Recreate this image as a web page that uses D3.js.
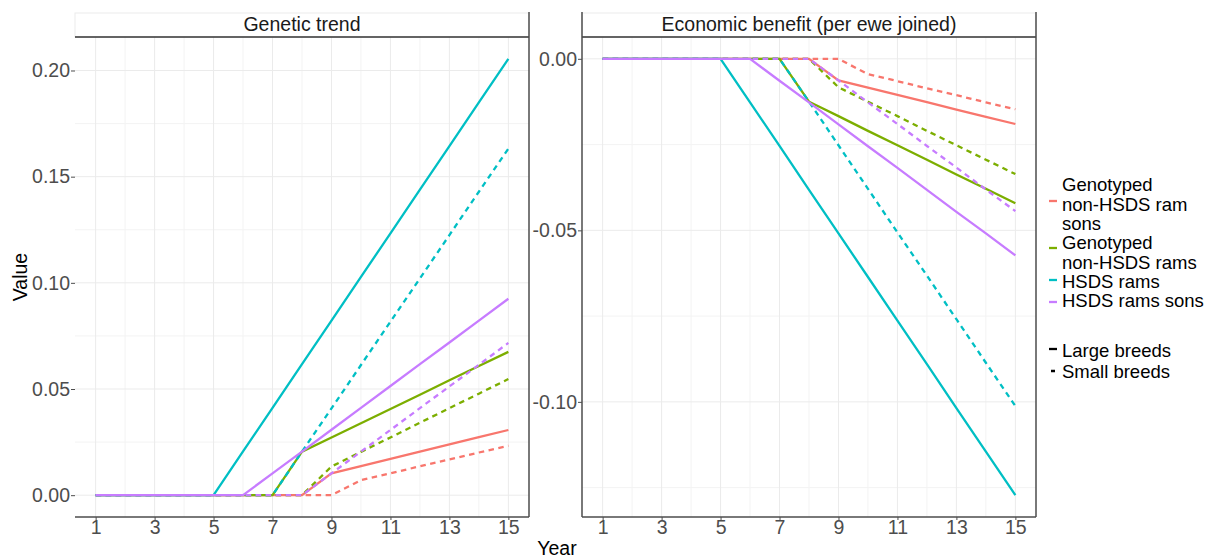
<!DOCTYPE html>
<html>
<head>
<meta charset="utf-8">
<script src="https://cdn.jsdelivr.net/npm/d3@7"></script>
<style>
  html, body { margin: 0; padding: 0; background: #fff; }
  svg { display: block; font-family: "Liberation Sans", Arial, sans-serif; }
</style>
</head>
<body>
<svg id="chart" width="1216" height="558"></svg>
<script>
// ---- data -------------------------------------------------------------
const years = [1, 2, 3, 4, 5, 6, 7, 8, 9, 10, 11, 12, 13, 14, 15];
const yearTicks = [1, 3, 5, 7, 9, 11, 13, 15];

const groups = ["Genotyped non-HSDS ram sons", "Genotyped non-HSDS rams", "HSDS rams", "HSDS rams sons"];
const groupLabels = [
  ["Genotyped", "non-HSDS ram", "sons"],
  ["Genotyped", "non-HSDS rams"],
  ["HSDS rams"],
  ["HSDS rams sons"]
];
const groupColors = ["#F8766D", "#7CAE00", "#00BFC4", "#C77CFF"];
const breeds = ["Large breeds", "Small breeds"];

// Genetic trend, one array per group x breed size
const geneticRamSonsLarge  = [0, 0, 0, 0, 0, 0, 0, 0, 0.0103, 0.0137, 0.0171, 0.0205, 0.0239, 0.0273, 0.0307];
const geneticRamSonsSmall  = [0, 0, 0, 0, 0, 0, 0, 0, 0, 0.0071, 0.0103, 0.0136, 0.0168, 0.0201, 0.0233];
const geneticRamsLarge     = [0, 0, 0, 0, 0, 0, 0, 0.0205, 0.0272, 0.0339, 0.0406, 0.0473, 0.0541, 0.0608, 0.0675];
const geneticRamsSmall     = [0, 0, 0, 0, 0, 0, 0, 0, 0.0135, 0.0204, 0.0272, 0.0341, 0.0410, 0.0478, 0.0547];
const geneticHsdsLarge     = [0, 0, 0, 0, 0, 0.0206, 0.0411, 0.0617, 0.0822, 0.1028, 0.1233, 0.1439, 0.1644, 0.1850, 0.2055];
const geneticHsdsSmall     = [0, 0, 0, 0, 0, 0, 0, 0.0205, 0.0409, 0.0613, 0.0817, 0.1021, 0.1225, 0.1429, 0.1632];
const geneticHsdsSonsLarge = [0, 0, 0, 0, 0, 0, 0.0103, 0.0205, 0.0308, 0.0411, 0.0514, 0.0617, 0.0719, 0.0822, 0.0925];
const geneticHsdsSonsSmall = [0, 0, 0, 0, 0, 0, 0, 0, 0.0103, 0.0205, 0.0307, 0.0410, 0.0512, 0.0614, 0.0717];

// Economic benefit per ewe joined
const economicRamSonsLarge  = [0, 0, 0, 0, 0, 0, 0, 0, -0.0063, -0.0084, -0.0105, -0.0126, -0.0148, -0.0169, -0.0190];
const economicRamSonsSmall  = [0, 0, 0, 0, 0, 0, 0, 0, 0, -0.0045, -0.0065, -0.0086, -0.0106, -0.0127, -0.0147];
const economicRamsLarge     = [0, 0, 0, 0, 0, 0, 0, -0.0125, -0.0167, -0.0210, -0.0252, -0.0294, -0.0337, -0.0379, -0.0421];
const economicRamsSmall     = [0, 0, 0, 0, 0, 0, 0, 0, -0.0083, -0.0125, -0.0167, -0.0210, -0.0252, -0.0294, -0.0336];
const economicHsdsLarge     = [0, 0, 0, 0, 0, -0.0127, -0.0254, -0.0382, -0.0509, -0.0636, -0.0763, -0.0890, -0.1018, -0.1145, -0.1272];
const economicHsdsSmall     = [0, 0, 0, 0, 0, 0, 0, -0.0125, -0.0252, -0.0379, -0.0506, -0.0632, -0.0759, -0.0886, -0.1012];
const economicHsdsSonsLarge = [0, 0, 0, 0, 0, 0, -0.0064, -0.0127, -0.0191, -0.0255, -0.0318, -0.0382, -0.0446, -0.0509, -0.0573];
const economicHsdsSonsSmall = [0, 0, 0, 0, 0, 0, 0, 0, -0.0063, -0.0127, -0.0190, -0.0254, -0.0317, -0.0381, -0.0444];

const geneticTicks = [0, 0.05, 0.10, 0.15, 0.20];
const geneticMinor = [0.025, 0.075, 0.125, 0.175];
const economicTicks = [0, -0.05, -0.10];
const economicMinor = [-0.025, -0.075, -0.125];

// ---- panel definitions -------------------------------------------------
const panels = [
  {
    title: "Genetic trend",
    x0: 75, x1: 529,
    ticks: geneticTicks, minor: geneticMinor,
    leftLine: false,
    series: [
      [geneticRamSonsLarge, geneticRamSonsSmall],
      [geneticRamsLarge, geneticRamsSmall],
      [geneticHsdsLarge, geneticHsdsSmall],
      [geneticHsdsSonsLarge, geneticHsdsSonsSmall]
    ]
  },
  {
    title: "Economic benefit (per ewe joined)",
    x0: 582, x1: 1036,
    ticks: economicTicks, minor: economicMinor,
    leftLine: true,
    series: [
      [economicRamSonsLarge, economicRamSonsSmall],
      [economicRamsLarge, economicRamsSmall],
      [economicHsdsLarge, economicHsdsSmall],
      [economicHsdsSonsLarge, economicHsdsSonsSmall]
    ]
  }
];

const stripTop = 13, stripBottom = 37, plotBottom = 517;
const lineWidth = 2.3;
const dashPattern = "5.5,4.5";
const axisGrey = "#4d4d4d";

const svg = d3.select("#chart");

function fmt(v) { return d3.format(".2f")(v).replace("−", "-"); }

panels.forEach(p => {
  const x = d3.scaleLinear()
    .domain([1 - 0.7, 15 + 0.7])
    .range([p.x0, p.x1]);

  const all = p.series.flat(2);
  const ext = d3.extent(all);
  const pad = (ext[1] - ext[0]) * 0.05;
  const y = d3.scaleLinear()
    .domain([ext[0] - pad, ext[1] + pad])
    .range([plotBottom, stripBottom]);

  const g = svg.append("g");

  // grid: minor first, then major
  const minorX = d3.range(2, 15, 2);
  g.selectAll(".gxm").data(minorX).join("line")
    .attr("x1", d => x(d)).attr("x2", d => x(d))
    .attr("y1", stripBottom).attr("y2", plotBottom)
    .attr("stroke", "#f3f3f3").attr("stroke-width", 1);
  g.selectAll(".gym").data(p.minor).join("line")
    .attr("x1", p.x0).attr("x2", p.x1)
    .attr("y1", d => y(d)).attr("y2", d => y(d))
    .attr("stroke", "#f3f3f3").attr("stroke-width", 1);
  g.selectAll(".gx").data(yearTicks).join("line")
    .attr("x1", d => x(d)).attr("x2", d => x(d))
    .attr("y1", stripBottom).attr("y2", plotBottom)
    .attr("stroke", "#ebebeb").attr("stroke-width", 1);
  g.selectAll(".gy").data(p.ticks).join("line")
    .attr("x1", p.x0).attr("x2", p.x1)
    .attr("y1", d => y(d)).attr("y2", d => y(d))
    .attr("stroke", "#ebebeb").attr("stroke-width", 1);

  // strip
  g.append("rect")
    .attr("x", p.x0).attr("y", stripTop)
    .attr("width", p.x1 - p.x0).attr("height", stripBottom - stripTop)
    .attr("fill", "#fff").attr("stroke", "#ebebeb").attr("stroke-width", 1);
  g.append("text")
    .attr("x", (p.x0 + p.x1) / 2).attr("y", stripBottom - 6)
    .attr("text-anchor", "middle")
    .attr("font-size", 19.5).attr("fill", "#1a1a1a")
    .text(p.title);
  g.append("line")
    .attr("x1", p.x0).attr("x2", p.x1)
    .attr("y1", stripBottom).attr("y2", stripBottom)
    .attr("stroke", "#333").attr("stroke-width", 1.5);

  // series lines
  const line = d3.line()
    .x((d, i) => x(years[i]))
    .y(d => y(d));
  p.series.forEach((pair, gi) => {
    pair.forEach((vals, bi) => {
      g.append("path")
        .datum(vals)
        .attr("d", line)
        .attr("fill", "none")
        .attr("stroke", groupColors[gi])
        .attr("stroke-width", lineWidth)
        .attr("stroke-dasharray", bi === 1 ? dashPattern : null);
    });
  });

  // axes
  const xAxis = d3.axisBottom(x).tickValues(yearTicks).tickSize(3).tickPadding(0);
  const gx = g.append("g").attr("transform", `translate(0,${plotBottom})`).call(xAxis);
  gx.select(".domain").remove();
  gx.selectAll(".tick line").attr("stroke", axisGrey).attr("stroke-width", 1);
  gx.selectAll(".tick text")
    .attr("font-size", 19.5).attr("fill", axisGrey)
    .attr("font-family", "Liberation Sans, Arial, sans-serif");

  const yAxis = d3.axisLeft(y).tickValues(p.ticks).tickFormat(fmt).tickSize(4).tickPadding(1);
  const gy = g.append("g").attr("transform", `translate(${p.x0},0)`).call(yAxis);
  gy.select(".domain").remove();
  gy.selectAll(".tick line").attr("stroke", axisGrey).attr("stroke-width", 1);
  gy.selectAll(".tick text")
    .attr("font-size", 19.5).attr("fill", axisGrey)
    .attr("font-family", "Liberation Sans, Arial, sans-serif");

  // panel frame lines
  g.append("line")
    .attr("x1", p.x0).attr("x2", p.x1)
    .attr("y1", plotBottom).attr("y2", plotBottom)
    .attr("stroke", axisGrey).attr("stroke-width", 1.5);
  g.append("line")
    .attr("x1", p.x1).attr("x2", p.x1)
    .attr("y1", stripTop - 1).attr("y2", plotBottom)
    .attr("stroke", axisGrey).attr("stroke-width", 1.5);
  if (p.leftLine) {
    g.append("line")
      .attr("x1", p.x0).attr("x2", p.x0)
      .attr("y1", stripTop - 1).attr("y2", plotBottom)
      .attr("stroke", axisGrey).attr("stroke-width", 1.5);
  }
});

// axis titles
svg.append("text")
  .attr("x", 557).attr("y", 555)
  .attr("text-anchor", "middle")
  .attr("font-size", 19.5).attr("fill", "#000")
  .text("Year");
svg.append("text")
  .attr("transform", "translate(27,277) rotate(-90)")
  .attr("text-anchor", "middle")
  .attr("font-size", 19.5).attr("fill", "#000")
  .text("Value");

// legend: colour groups
const legend = svg.append("g");
const keyX0 = 1049, keyX1 = 1057, textX = 1062, lineStep = 19.5;
const colourKeyY = [201, 248, 280, 302];
const colourFirstBaseline = [191, 249, 287.5, 307];
groups.forEach((name, i) => {
  legend.append("line")
    .attr("x1", keyX0).attr("x2", keyX1)
    .attr("y1", colourKeyY[i]).attr("y2", colourKeyY[i])
    .attr("stroke", groupColors[i]).attr("stroke-width", lineWidth);
  const t = legend.append("text")
    .attr("x", textX).attr("y", colourFirstBaseline[i])
    .attr("font-size", 18.5).attr("fill", "#000");
  groupLabels[i].forEach((s, k) => {
    t.append("tspan").attr("x", textX).attr("dy", k === 0 ? 0 : lineStep).text(s);
  });
});

// legend: breed size (line type)
const breedKeyY = [349, 371];
const breedBaseline = [357, 378];
breeds.forEach((name, i) => {
  legend.append("line")
    .attr("x1", keyX0).attr("x2", keyX1)
    .attr("y1", breedKeyY[i]).attr("y2", breedKeyY[i])
    .attr("stroke", "#000").attr("stroke-width", lineWidth)
    .attr("stroke-dasharray", i === 1 ? "0,2,4,10" : null);
  legend.append("text")
    .attr("x", textX).attr("y", breedBaseline[i])
    .attr("font-size", 18.5).attr("fill", "#000")
    .text(name);
});
</script>
</body>
</html>
